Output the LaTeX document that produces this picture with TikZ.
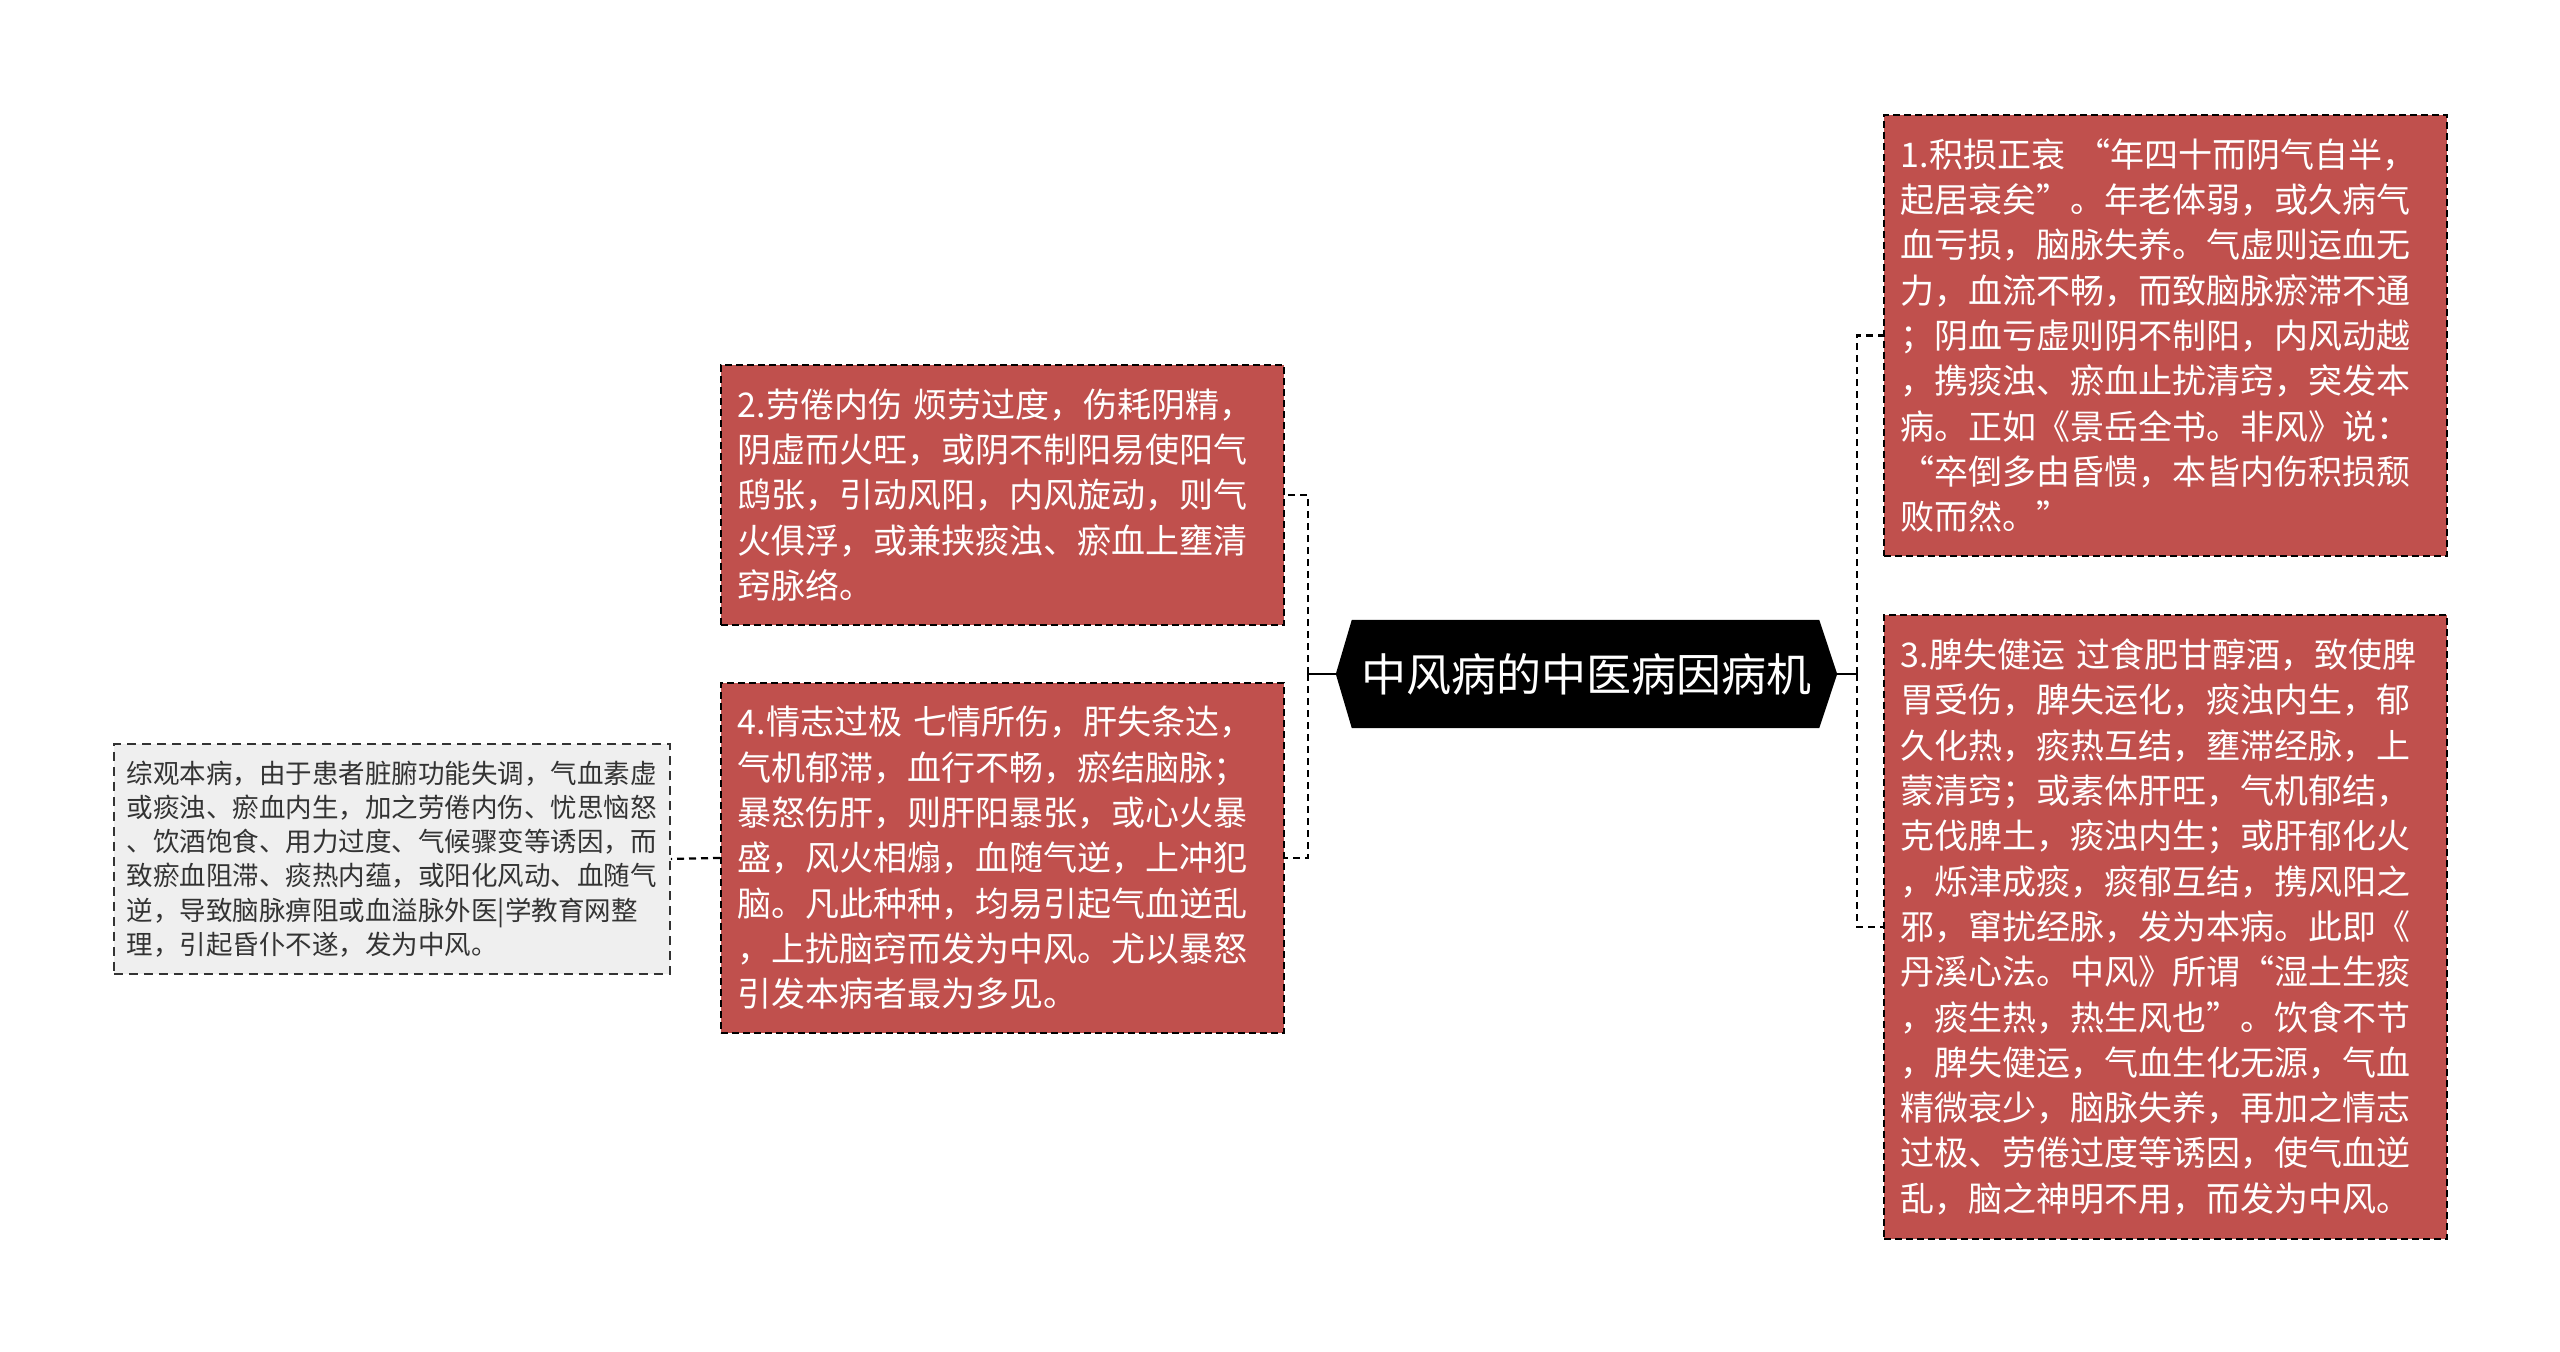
\documentclass[tikz,border=0pt]{standalone}
\usepackage{fontspec}
\setmainfont{Noto Sans CJK SC}
\usetikzlibrary{backgrounds}
\definecolor{boxred}{HTML}{C0504D}
\definecolor{boxgray}{HTML}{EFEFEF}
\definecolor{txtgray}{HTML}{333333}
\begin{document}
\begin{tikzpicture}[x=1pt,y=-1pt,
  redbox/.style={draw=black, line width=1.8pt, dash pattern=on 7pt off 4pt,
    fill=boxred, text=white, inner xsep=17pt, inner ysep=0pt,
    text width=529pt, align=left, anchor=north west,
    font=\fontsize{34}{45.3}\selectfont},
  graybox/.style={draw=txtgray, line width=1.8pt, dash pattern=on 9pt off 6pt,
    fill=boxgray, text=txtgray, inner xsep=13pt, inner ysep=0pt,
    text width=530pt, align=left, anchor=north west,
    font=\fontsize{26.5}{34.2}\selectfont},
  conn/.style={draw=black, line width=2.2pt, dash pattern=on 7pt off 5pt},
  stub/.style={draw=black, line width=2.2pt}
]
\useasboundingbox (0,0) rectangle (2560,1352);

% central topic
\node (c) at (1586.5,674) [text=white, inner sep=0pt, minimum width=501pt,
  minimum height=108pt, font=\fontsize{45}{54}\selectfont] {中风病的中医病因病机};
\begin{scope}[on background layer]
  \fill[white] (0,0) rectangle (2560,1352);
  \fill[black] (c.west) -- ([xshift=16pt]c.north west) -- ([xshift=-18pt]c.north east)
    -- (c.east) -- ([xshift=-18pt]c.south east) -- ([xshift=16pt]c.south west) -- cycle;
\end{scope}

% right branches
\node[redbox, minimum height=441pt] (b1) at (1883,114) {1.积损正衰 “年四十而阴气自半，\\
起居衰矣”。年老体弱，或久病气\\
血亏损，脑脉失养。气虚则运血无\\
力，血流不畅，而致脑脉瘀滞不通\\
；阴血亏虚则阴不制阳，内风动越\\
，携痰浊、瘀血止扰清窍，突发本\\
病。正如《景岳全书。非风》说：\\
“卒倒多由昏愦，本皆内伤积损颓\\
败而然。”};

\node[redbox, minimum height=624pt] (b3) at (1883,614) {3.脾失健运 过食肥甘醇酒，致使脾\\
胃受伤，脾失运化，痰浊内生，郁\\
久化热，痰热互结，壅滞经脉，上\\
蒙清窍；或素体肝旺，气机郁结，\\
克伐脾土，痰浊内生；或肝郁化火\\
，烁津成痰，痰郁互结，携风阳之\\
邪，窜扰经脉，发为本病。此即《\\
丹溪心法。中风》所谓“湿土生痰\\
，痰生热，热生风也”。饮食不节\\
，脾失健运，气血生化无源，气血\\
精微衰少，脑脉失养，再加之情志\\
过极、劳倦过度等诱因，使气血逆\\
乱，脑之神明不用，而发为中风。};

% left branches
\node[redbox, minimum height=260pt] (b2) at (720,364) {2.劳倦内伤 烦劳过度，伤耗阴精，\\
阴虚而火旺，或阴不制阳易使阳气\\
鸱张，引动风阳，内风旋动，则气\\
火俱浮，或兼挟痰浊、瘀血上壅清\\
窍脉络。};

\node[redbox, minimum height=350pt] (b4) at (720,682) {4.情志过极 七情所伤，肝失条达，\\
气机郁滞，血行不畅，瘀结脑脉；\\
暴怒伤肝，则肝阳暴张，或心火暴\\
盛，风火相煽，血随气逆，上冲犯\\
脑。凡此种种，均易引起气血逆乱\\
，上扰脑窍而发为中风。尤以暴怒\\
引发本病者最为多见。};

\node[graybox, minimum height=230pt] (bl) at (113,743) {综观本病，由于患者脏腑功能失调，气血素虚\\
或痰浊、瘀血内生，加之劳倦内伤、忧思恼怒\\
、饮酒饱食、用力过度、气候骤变等诱因，而\\
致瘀血阻滞、痰热内蕴，或阳化风动、血随气\\
逆，导致脑脉痹阻或血溢脉外医|学教育网整\\
理，引起昏仆不遂，发为中风。};

% connectors
\coordinate (jl) at (1308,674);
\coordinate (jr) at (1857,674);
\draw[stub] (c.west) -- (jl);
\draw[stub] (c.east) -- (jr);
\draw[conn] (jl) |- (b2.east);
\draw[conn] (jl) |- (b4.east);
\draw[conn] (jr) |- (b1.west);
\draw[conn] (jr) |- (b3.west);
\draw[conn] (b4.west) -- (bl.east);
\end{tikzpicture}
\end{document}
